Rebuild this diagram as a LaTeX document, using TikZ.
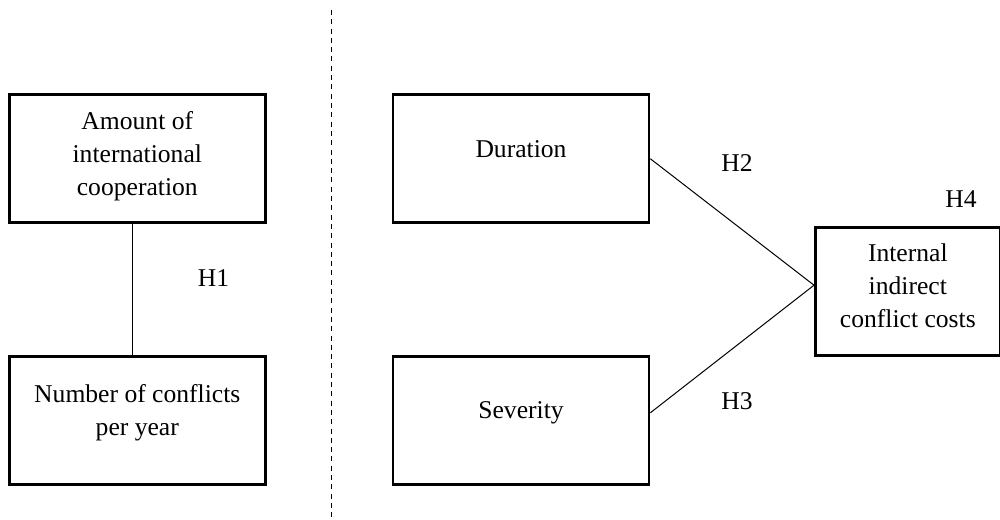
\documentclass[tikz,border=0pt]{standalone}
\usepackage{fontspec}
\setmainfont{Liberation Serif}
\begin{document}
\begin{tikzpicture}[x=1pt,y=-1pt,
  var/.style={draw, line width=2.6pt, minimum width=256pt, minimum height=128pt, inner sep=0pt},
  txt/.style={font=\fontsize{25.6}{32.8}\selectfont, align=center, inner sep=0pt},
  lbl/.style={font=\fontsize{25.6}{30}\selectfont, inner sep=0pt},
  link/.style={line width=1pt},
  divider/.style={line width=1pt, dash pattern=on 5pt off 4.3pt}]
\useasboundingbox (0,0) rectangle (1000,519);
\fill[white] (0,0) rectangle (1000,519);

% left panel: cooperation and number of conflicts
\node[var] (coop) at (137.3,158.7) {};
\node[txt] (coopT) at (137.3,156) {Amount of\\international\\cooperation};
\node[var] (num) at (137.3,420.3) {};
\node[txt] (numT) at (137.3,413) {Number of conflicts\\per year};
\draw[link] ([xshift=-4.6pt]coop.south) -- ([xshift=-4.6pt]num.north);
\node[lbl] (h1) at (213.5,278) {H1};

% separator between the two panels
\coordinate (sepTop) at (331,10);
\coordinate (sepBot) at (331,519);
\draw[divider] (sepTop) -- (sepBot);

% right panel: conflict characteristics and indirect costs
\node[var] (dur) at (521,158.7) {};
\node[txt] (durT) at (521,149.5) {Duration};
\node[var] (sev) at (521,420.3) {};
\node[txt] (sevT) at (521,412.5) {Severity};
\node[var, minimum width=185pt] (cost) at (907.8,291.2) {};
\node[txt] (costT) at (907.8,286) {Internal\\indirect\\conflict costs};

\coordinate (meet) at ([yshift=6pt]cost.west);
\draw[link] (dur.east) -- (meet);
\draw[link] ([yshift=7.5pt]sev.east) -- (meet);

\node[lbl] (h2) at (737,163) {H2};
\node[lbl] (h3) at (737,401) {H3};
\node[lbl] (h4) at (961,199) {H4};
\end{tikzpicture}
\end{document}
